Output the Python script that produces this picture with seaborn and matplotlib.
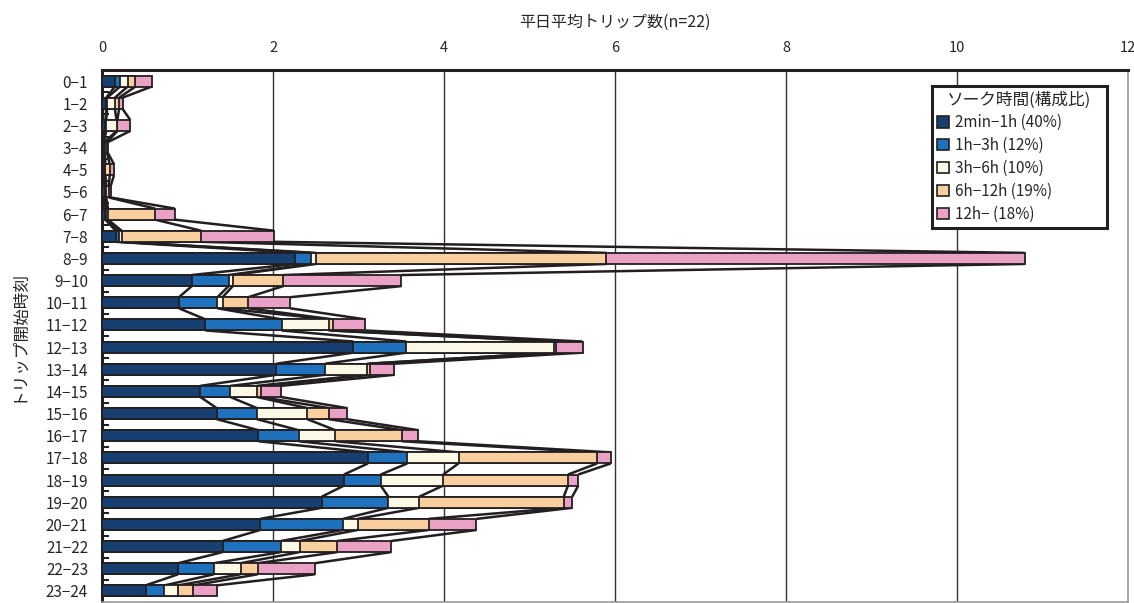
import numpy as np
import pandas as pd
import matplotlib
matplotlib.use("Agg")
import matplotlib.pyplot as plt
from matplotlib.patches import Patch
import seaborn as sns

# Hour-of-day start bins
categories = ["0-1", "1-2", "2-3", "3-4", "4-5", "5-6", "6-7", "7-8", "8-9", "9-10",
              "10-11", "11-12", "12-13", "13-14", "14-15", "15-16", "16-17", "17-18",
              "18-19", "19-20", "20-21", "21-22", "22-23", "23-24"]
tick_labels = [c.replace("-", "−") for c in categories]

# Average weekday trips per soak-time class
soak_2min_1h = [0.15, 0.05, 0.04, 0.02, 0.02, 0.03, 0.04, 0.16, 2.26, 1.05, 0.90, 1.21,
                2.94, 2.04, 1.15, 1.34, 1.83, 3.11, 2.83, 2.57, 1.85, 1.41, 0.89, 0.51]
soak_1h_3h = [0.06, 0.01, 0.01, 0.00, 0.01, 0.01, 0.01, 0.04, 0.18, 0.43, 0.45, 0.89,
              0.62, 0.57, 0.35, 0.47, 0.47, 0.46, 0.43, 0.78, 0.97, 0.68, 0.42, 0.22]
soak_3h_6h = [0.09, 0.09, 0.12, 0.01, 0.01, 0.01, 0.02, 0.03, 0.06, 0.05, 0.06, 0.55,
              1.73, 0.49, 0.31, 0.59, 0.43, 0.60, 0.73, 0.36, 0.17, 0.22, 0.31, 0.16]
soak_6h_12h = [0.09, 0.05, 0.01, 0.03, 0.05, 0.03, 0.55, 0.93, 3.40, 0.59, 0.30, 0.05,
               0.02, 0.03, 0.05, 0.25, 0.78, 1.62, 1.46, 1.69, 0.83, 0.44, 0.20, 0.18]
soak_12h_plus = [0.19, 0.04, 0.15, 0.01, 0.05, 0.02, 0.23, 0.85, 4.89, 1.38, 0.49, 0.38,
                 0.31, 0.29, 0.23, 0.21, 0.19, 0.16, 0.12, 0.10, 0.56, 0.63, 0.67, 0.27]

series_names = ["2min−1h (40%)", "1h−3h (12%)", "3h−6h (10%)", "6h−12h (19%)", "12h− (18%)"]
colors = ["#173f72", "#1e71bd", "#fbf9e6", "#f9cf9d", "#eba0c5"]
edge = "#231f20"

sns.set_theme(style="white")
plt.rcParams["font.family"] = ["Noto Sans CJK JP", "DejaVu Sans"]

fig = plt.figure(figsize=(11.34, 6.03), dpi=100)
ax = fig.add_axes([102 / 1134, 1 / 603, 1026 / 1134, 532 / 603])

series = [soak_2min_1h, soak_1h_3h, soak_3h_6h, soak_6h_12h, soak_12h_plus]
cum = np.cumsum(np.array(series), axis=0)  # boundaries of stacked segments

bar_h = 0.5
# Stacked bars: draw cumulative totals from the outermost layer inward
for k in range(len(series) - 1, -1, -1):
    df = pd.DataFrame({"start": categories, "trips": cum[k]})
    sns.barplot(data=df, x="trips", y="start", order=categories, orient="h",
                color=colors[k], saturation=1, width=bar_h,
                edgecolor=edge, linewidth=1.3, ax=ax, zorder=3)

# Series lines joining segment boundaries of neighbouring bars
for k in range(len(series)):
    for i in range(len(categories) - 1):
        ax.plot([cum[k][i], cum[k][i + 1]],
                [i + bar_h / 2, i + 1 - bar_h / 2],
                color=edge, lw=1.8, solid_capstyle="butt", zorder=2)

ax.set_xlim(0, 12)
ax.set_ylim(len(categories) - 0.5, -0.5)
ax.set_xticks(np.arange(0, 13, 2))
ax.xaxis.tick_top()
ax.xaxis.set_label_position("top")
ax.set_xlabel("平日平均トリップ数(n=22)", fontsize=11.5, labelpad=10)
ax.set_ylabel("トリップ開始時刻", fontsize=12, labelpad=14)
ax.set_yticks(range(len(categories)))
ax.set_yticklabels(tick_labels)
ax.tick_params(axis="x", labelsize=10.5, length=0, pad=11)
ax.tick_params(axis="y", labelsize=11, length=0, pad=10)
ax.set_yticks(np.arange(0.5, len(categories) - 0.5, 1), minor=True)
ax.tick_params(axis="y", which="minor", direction="in", length=5, width=1.5,
               color=edge, left=True)

# Vertical gridlines
ax.set_axisbelow(True)
for v in range(2, 12, 2):
    ax.axvline(v, color="#333333", lw=1.0, zorder=1)

for side in ["top", "left"]:
    ax.spines[side].set_color(edge)
    ax.spines[side].set_linewidth(2.2)
for side in ["right", "bottom"]:
    ax.spines[side].set_color("#9a9a9a")
    ax.spines[side].set_linewidth(1.2)

handles = [Patch(facecolor=c, edgecolor=edge, linewidth=1.2, label=n)
           for c, n in zip(colors, series_names)]
leg = ax.legend(handles=handles, title="ソーク時間(構成比)", loc="upper left",
                bbox_to_anchor=(932 / 1134, 1 - 228 / 603, 175 / 1134, 142 / 603),
                bbox_transform=fig.transFigure, mode="expand",
                borderaxespad=0, fontsize=11, title_fontsize=12, frameon=True,
                fancybox=False, handlelength=0.75, handleheight=0.75, handletextpad=0.4,
                labelspacing=0.38, borderpad=0.35, alignment="center")
leg.get_frame().set_edgecolor(edge)
leg.get_frame().set_linewidth(2.2)
leg.get_frame().set_facecolor("white")
leg.get_frame().set_alpha(1)
leg.set_zorder(10)

fig.savefig("out.png", dpi=100)
